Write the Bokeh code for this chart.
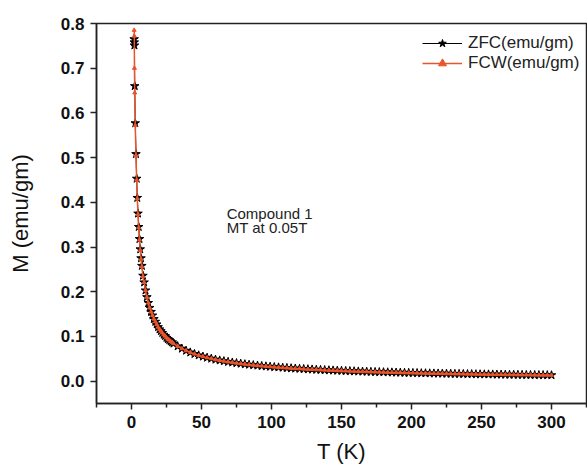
from bokeh.plotting import figure
from bokeh.models import (Range1d, FixedTicker, NumeralTickFormatter, Legend,
                          LegendItem, Label, ColumnDataSource)
from bokeh.embed import file_html
from bokeh.resources import INLINE

# ---------------- data ----------------
t_low = [1.9, 2.0, 2.1, 2.3, 2.7, 3.2, 3.7, 4.15, 4.65, 5.15, 5.7, 6.25, 6.8, 7.4, 8.2]
zfc_low = [0.765, 0.758, 0.751, 0.660, 0.577, 0.508, 0.453, 0.410, 0.375, 0.345,
           0.318, 0.295, 0.275, 0.258, 0.236]
fcw_low = [0.785, 0.772, 0.700, 0.645, 0.572, 0.505, 0.450, 0.408, 0.373, 0.343,
           0.316, 0.293, 0.273, 0.256, 0.234]

t_high = [9, 10, 11, 12, 13, 14, 15, 16, 17, 18, 19, 20, 21, 22, 23, 24, 25, 26, 27, 28, 29,
          30, 33, 36, 39, 42, 45, 48, 51, 54, 57, 60, 63, 66, 69, 72, 75, 78, 81, 84, 87,
          90, 93, 96, 99, 102, 105, 108, 111, 114, 117, 120, 123, 126, 129, 132, 135, 138,
          141, 144, 147, 150, 153, 156, 159, 162, 165, 168, 171, 174, 177, 180, 183, 186,
          189, 192, 195, 198, 201, 204, 207, 210, 213, 216, 219, 222, 225, 228, 231, 234,
          237, 240, 243, 246, 249, 252, 255, 258, 261, 264, 267, 270, 273, 276, 279, 282,
          285, 288, 291, 294, 297, 300]
m_high = [0.221, 0.203, 0.188, 0.175, 0.164, 0.155, 0.147, 0.139, 0.133, 0.127, 0.121,
          0.116, 0.112, 0.108, 0.104, 0.101, 0.097, 0.094, 0.092, 0.089, 0.087,
          0.0842, 0.0780, 0.0728, 0.0682, 0.0643, 0.0608, 0.0578, 0.0551, 0.0526, 0.0504,
          0.0483, 0.0465, 0.0448, 0.0432, 0.0418, 0.0404, 0.0392, 0.0380, 0.0369, 0.0359,
          0.0349, 0.0340, 0.0332, 0.0324, 0.0316, 0.0309, 0.0302, 0.0296, 0.0289, 0.0283,
          0.0278, 0.0272, 0.0267, 0.0262, 0.0257, 0.0253, 0.0248, 0.0244, 0.0240, 0.0236,
          0.0232, 0.0229, 0.0225, 0.0222, 0.0218, 0.0215, 0.0212, 0.0209, 0.0206, 0.0204,
          0.0201, 0.0198, 0.0196, 0.0193, 0.0191, 0.0188, 0.0186, 0.0184, 0.0182, 0.0179,
          0.0177, 0.0175, 0.0173, 0.0172, 0.0170, 0.0168, 0.0166, 0.0164, 0.0163, 0.0161,
          0.0159, 0.0158, 0.0156, 0.0155, 0.0153, 0.0152, 0.0151, 0.0149, 0.0148, 0.0146,
          0.0145, 0.0144, 0.0143, 0.0141, 0.0140, 0.0139, 0.0138, 0.0137, 0.0136, 0.0135,
          0.0133]

x_ticks = [0, 50, 100, 150, 200, 250, 300]
x_minor = [-25, 25, 75, 125, 175, 225, 275, 325]
y_ticks = [0.0, 0.1, 0.2, 0.3, 0.4, 0.5, 0.6, 0.7, 0.8]

series_labels = ["ZFC(emu/gm)", "FCW(emu/gm)"]
note_lines = ["Compound 1", "MT at 0.05T"]

# ---------------- build ----------------
zfc = ColumnDataSource(dict(t=t_low + t_high, m=zfc_low + m_high))
fcw = ColumnDataSource(dict(t=t_low + t_high, m=fcw_low + m_high))

FONT = "Liberation Sans"
RED = "#e8542b"
INK = "#222222"

p = figure(width=587, height=470, output_backend="svg", toolbar_location=None,
           x_range=Range1d(-25, 325), y_range=Range1d(-0.05, 0.8),
           min_border_left=96, min_border_right=1, min_border_top=23,
           min_border_bottom=67, background_fill_color="white",
           border_fill_color="white")

zl = p.line("t", "m", source=zfc, line_color="black", line_width=1)
zs = p.scatter("t", "m", source=zfc, marker="star", size=9,
               fill_color="black", line_color="black", line_width=1)
fl = p.line("t", "m", source=fcw, line_color=RED, line_width=1.5)
fs = p.scatter("t", "m", source=fcw, marker="triangle", size=4,
               fill_color=RED, line_color=RED)

p.xgrid.visible = False
p.ygrid.visible = False
p.outline_line_color = INK
p.outline_line_width = 1.5

p.xaxis.ticker = FixedTicker(ticks=x_ticks, minor_ticks=x_minor)
p.yaxis.ticker = FixedTicker(ticks=y_ticks, minor_ticks=[])
p.yaxis.formatter = NumeralTickFormatter(format="0.0")
p.xaxis.axis_label = "T (K)"
p.yaxis.axis_label = "M (emu/gm)"

for ax in (p.xaxis[0], p.yaxis[0]):
    ax.axis_line_color = INK
    ax.axis_line_width = 1.5
    ax.major_tick_line_color = INK
    ax.major_tick_line_width = 1.5
    ax.minor_tick_line_color = INK
    ax.minor_tick_line_width = 1.5
    ax.major_tick_in = 0
    ax.major_tick_out = 6
    ax.minor_tick_in = 0
    ax.minor_tick_out = 4
    ax.major_label_text_font = FONT
    ax.major_label_text_font_size = "17px"
    ax.major_label_text_font_style = "bold"
    ax.major_label_text_color = "#111111"
    ax.axis_label_text_font = FONT
    ax.axis_label_text_font_size = "22px"
    ax.axis_label_text_font_style = "normal"
    ax.axis_label_text_color = "#111111"

p.xaxis.major_label_standoff = 6
p.xaxis.axis_label_standoff = 8
p.yaxis.major_label_standoff = 6
p.yaxis.axis_label_standoff = 25

legend = Legend(items=[LegendItem(label=series_labels[0], renderers=[zl, zs]),
                       LegendItem(label=series_labels[1], renderers=[fl, fs])],
                location=(326, 330), padding=0, margin=0, spacing=0,
                glyph_width=40, glyph_height=20, label_height=20,
                label_standoff=6, label_text_font=FONT,
                label_text_font_size="17px", label_text_color=INK,
                border_line_color=None, background_fill_alpha=0)
p.add_layout(legend)

for txt, yy in zip(note_lines, [0.374, 0.343]):
    p.add_layout(Label(x=68, y=yy, text=txt, text_font=FONT,
                       text_font_size="15px", text_color=INK,
                       text_baseline="alphabetic"))

open("out.html", "w").write(file_html(p, INLINE))
